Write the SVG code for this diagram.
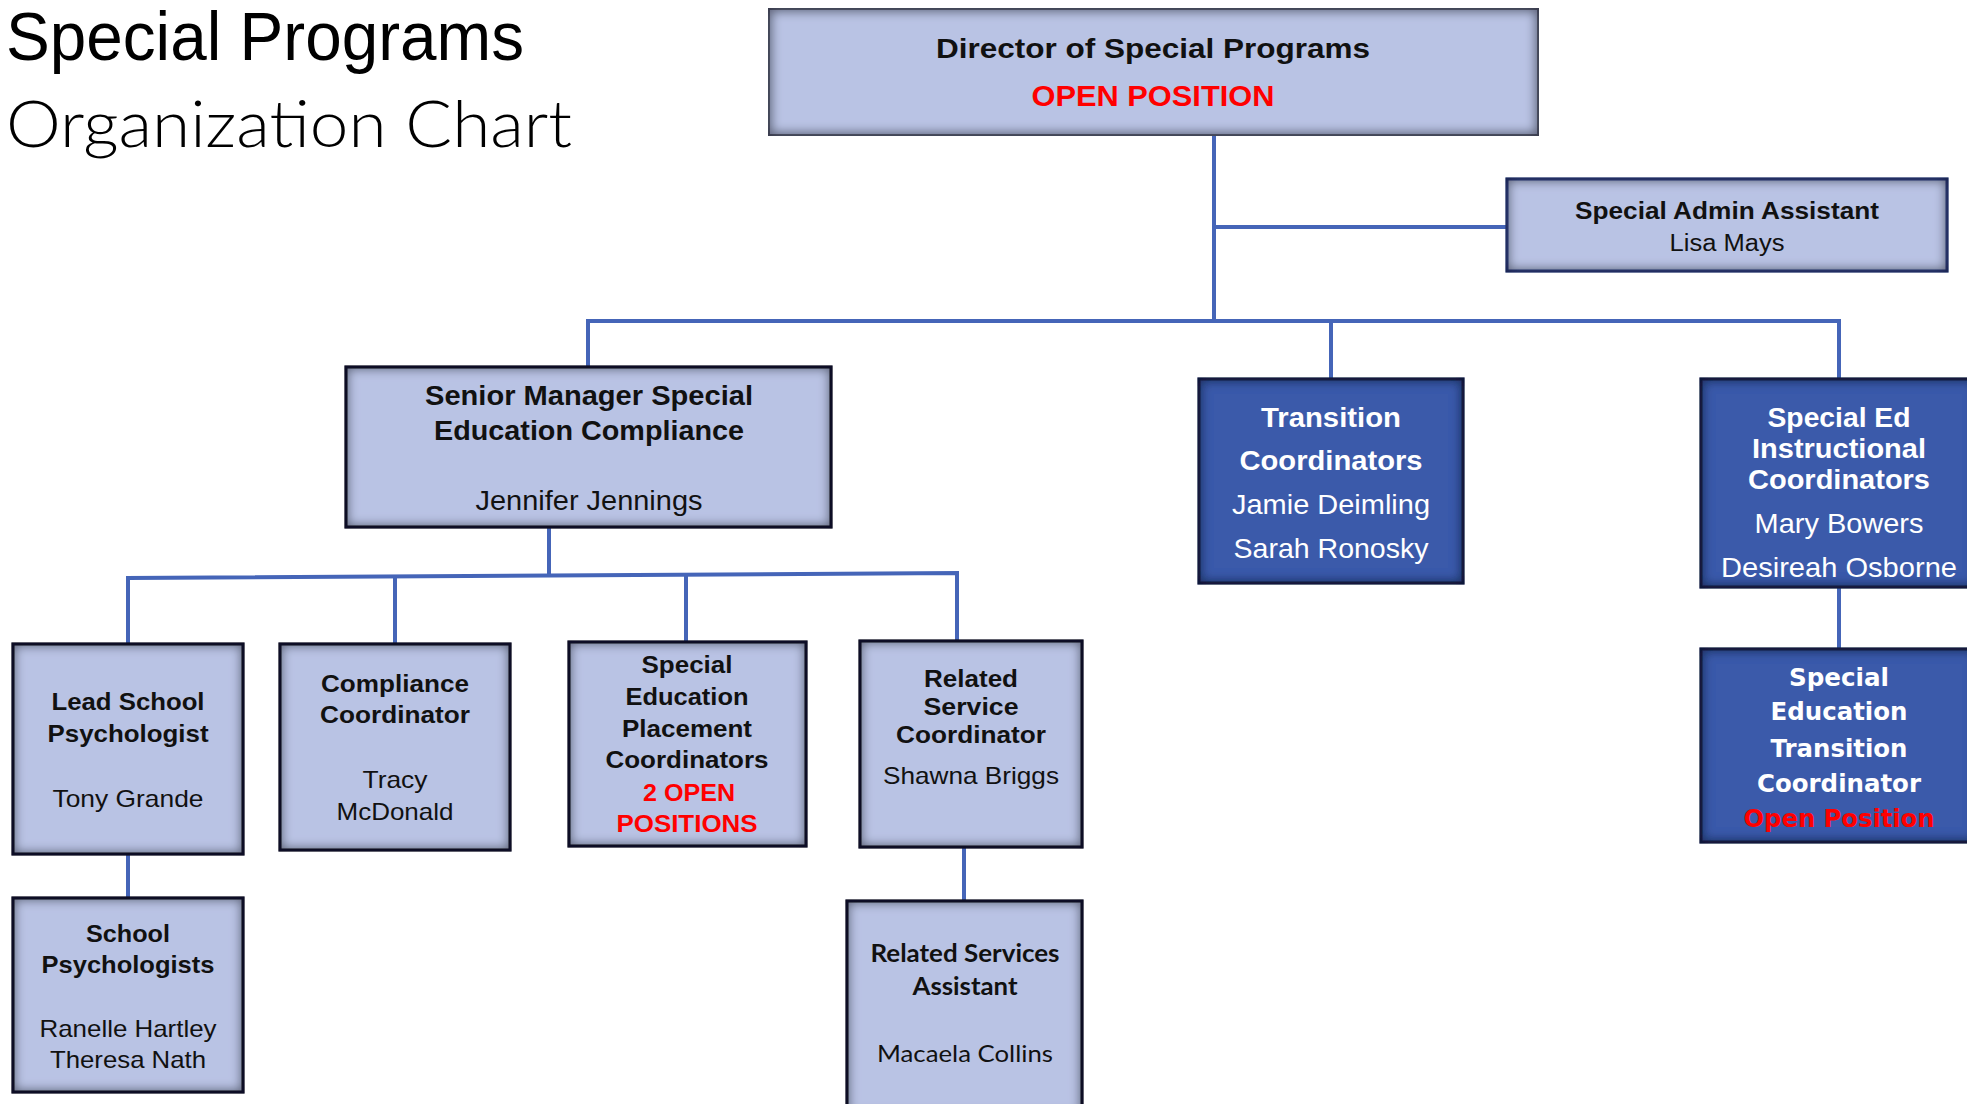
<svg xmlns="http://www.w3.org/2000/svg" width="1967" height="1104" viewBox="0 0 1967 1104">
<defs>
<filter id="inset" x="-5%" y="-5%" width="110%" height="110%">
<feMorphology in="SourceAlpha" operator="erode" radius="5" result="e"/>
<feGaussianBlur in="e" stdDeviation="5" result="eb"/>
<feFlood flood-color="#0c1230" flood-opacity="0.75" result="f"/>
<feComposite in="f" in2="eb" operator="out" result="sh"/>
<feComposite in="sh" in2="SourceAlpha" operator="in" result="s"/>
<feMerge><feMergeNode in="SourceGraphic"/><feMergeNode in="s"/></feMerge>
</filter>
<style>
.lb{fill:#b9c3e4;stroke:#121212;stroke-width:3}
.db{fill:#3a5aaa;stroke:#1c2850;stroke-width:3}
.t{font-family:"Liberation Sans",Arial,sans-serif;text-anchor:middle;fill:#111}
.b{font-weight:bold}
.w{fill:#ffffff}
.r{fill:#ff0000}
.v{font-family:"DejaVu Sans",Verdana,sans-serif}
.c{font-family:Lato,"Open Sans",sans-serif}
.con{fill:none;stroke:#4565b8;stroke-width:4}
</style>
</defs>
<rect width="1967" height="1104" fill="#ffffff"/>
<g id="title">
<text x="6" y="60" font-family="'Liberation Sans',Arial,sans-serif" font-size="68" fill="#000" textLength="518" lengthAdjust="spacingAndGlyphs">Special Programs</text>
<text x="6" y="147" font-family="Lato,'Open Sans',sans-serif" font-weight="300" font-size="66" fill="#000" textLength="566" lengthAdjust="spacingAndGlyphs">Organization Chart</text>
</g>
<g id="connectors">
<path class="con" d="M1214 135V321"/>
<path class="con" d="M1214 227H1507"/>
<path class="con" d="M588 367V321H1839V379"/>
<path class="con" d="M1331 321V379"/>
<path class="con" d="M1839 587V649"/>
<path class="con" d="M549 527V577"/>
<path class="con" d="M128 644V578L957 573V641"/>
<path class="con" d="M395 577V644"/>
<path class="con" d="M686 575V642"/>
<path class="con" d="M128 854V898"/>
<path class="con" d="M964 847V901"/>
</g>
<g id="director">
<rect x="769" y="9" width="769" height="126" fill="#b9c3e4" stroke="#6b6f80" stroke-width="2" filter="url(#inset)"/>
<text class="t b" x="1153" y="58" font-size="28" textLength="434" lengthAdjust="spacingAndGlyphs">Director of Special Programs</text>
<text class="t b r" x="1153" y="106" font-size="29" textLength="243" lengthAdjust="spacingAndGlyphs">OPEN POSITION</text>
</g>
<g id="admin-assistant">
<rect x="1507" y="179" width="440" height="92" fill="#b9c3e4" stroke="#34468c" stroke-width="3" filter="url(#inset)"/>
<text class="t b" x="1727" y="219" font-size="23" textLength="304" lengthAdjust="spacingAndGlyphs">Special Admin Assistant</text>
<text class="t" x="1727" y="251" font-size="23" textLength="115" lengthAdjust="spacingAndGlyphs">Lisa Mays</text>
</g>
<g id="senior-manager">
<rect class="lb" x="346" y="367" width="485" height="160" filter="url(#inset)"/>
<text class="t b" x="589" y="405" font-size="27" textLength="328" lengthAdjust="spacingAndGlyphs">Senior Manager Special</text>
<text class="t b" x="589" y="440" font-size="27" textLength="310" lengthAdjust="spacingAndGlyphs">Education Compliance</text>
<text class="t" x="589" y="510" font-size="27" textLength="227" lengthAdjust="spacingAndGlyphs">Jennifer Jennings</text>
</g>
<g id="transition-coordinators">
<rect class="db" x="1199" y="379" width="264" height="204" filter="url(#inset)"/>
<text class="t b w" x="1331" y="427" font-size="28" textLength="140" lengthAdjust="spacingAndGlyphs">Transition</text>
<text class="t b w" x="1331" y="470" font-size="28" textLength="183" lengthAdjust="spacingAndGlyphs">Coordinators</text>
<text class="t w" x="1331" y="514" font-size="28" textLength="198" lengthAdjust="spacingAndGlyphs">Jamie Deimling</text>
<text class="t w" x="1331" y="558" font-size="28" textLength="195" lengthAdjust="spacingAndGlyphs">Sarah Ronosky</text>
</g>
<g id="instructional-coordinators">
<rect class="db" x="1701" y="379" width="276" height="208" filter="url(#inset)"/>
<text class="t b w" x="1839" y="427" font-size="28" textLength="143" lengthAdjust="spacingAndGlyphs">Special Ed</text>
<text class="t b w" x="1839" y="458" font-size="28" textLength="174" lengthAdjust="spacingAndGlyphs">Instructional</text>
<text class="t b w" x="1839" y="489" font-size="28" textLength="182" lengthAdjust="spacingAndGlyphs">Coordinators</text>
<text class="t w" x="1839" y="533" font-size="28" textLength="169" lengthAdjust="spacingAndGlyphs">Mary Bowers</text>
<text class="t w" x="1839" y="577" font-size="28" textLength="236" lengthAdjust="spacingAndGlyphs">Desireah Osborne</text>
</g>
<g id="sped-transition-coordinator">
<rect class="db" x="1701" y="649" width="276" height="193" filter="url(#inset)"/>
<text class="t v b w" x="1839" y="686" font-size="24" textLength="100" lengthAdjust="spacingAndGlyphs">Special</text>
<text class="t v b w" x="1839" y="720" font-size="24" textLength="137" lengthAdjust="spacingAndGlyphs">Education</text>
<text class="t v b w" x="1839" y="757" font-size="24" textLength="137" lengthAdjust="spacingAndGlyphs">Transition</text>
<text class="t v b w" x="1839" y="792" font-size="24" textLength="164" lengthAdjust="spacingAndGlyphs">Coordinator</text>
<text class="t v b r" x="1839" y="827" font-size="24" textLength="191" lengthAdjust="spacingAndGlyphs">Open Position</text>
</g>
<g id="lead-school-psychologist">
<rect class="lb" x="13" y="644" width="230" height="210" filter="url(#inset)"/>
<text class="t b" x="128" y="710" font-size="24" textLength="153" lengthAdjust="spacingAndGlyphs">Lead School</text>
<text class="t b" x="128" y="742" font-size="24" textLength="161" lengthAdjust="spacingAndGlyphs">Psychologist</text>
<text class="t" x="128" y="807" font-size="24" textLength="151" lengthAdjust="spacingAndGlyphs">Tony Grande</text>
</g>
<g id="compliance-coordinator">
<rect class="lb" x="280" y="644" width="230" height="206" filter="url(#inset)"/>
<text class="t b" x="395" y="692" font-size="24" textLength="148" lengthAdjust="spacingAndGlyphs">Compliance</text>
<text class="t b" x="395" y="723" font-size="24" textLength="150" lengthAdjust="spacingAndGlyphs">Coordinator</text>
<text class="t" x="395" y="788" font-size="24" textLength="65" lengthAdjust="spacingAndGlyphs">Tracy</text>
<text class="t" x="395" y="820" font-size="24" textLength="117" lengthAdjust="spacingAndGlyphs">McDonald</text>
</g>
<g id="placement-coordinators">
<rect class="lb" x="569" y="642" width="237" height="204" filter="url(#inset)"/>
<text class="t b" x="687" y="673" font-size="23" textLength="91" lengthAdjust="spacingAndGlyphs">Special</text>
<text class="t b" x="687" y="705" font-size="23" textLength="123" lengthAdjust="spacingAndGlyphs">Education</text>
<text class="t b" x="687" y="737" font-size="23" textLength="130" lengthAdjust="spacingAndGlyphs">Placement</text>
<text class="t b" x="687" y="768" font-size="23" textLength="163" lengthAdjust="spacingAndGlyphs">Coordinators</text>
<text class="t b r" x="689" y="801" font-size="23" textLength="92" lengthAdjust="spacingAndGlyphs">2 OPEN</text>
<text class="t b r" x="687" y="832" font-size="23" textLength="141" lengthAdjust="spacingAndGlyphs">POSITIONS</text>
</g>
<g id="related-service-coordinator">
<rect class="lb" x="860" y="641" width="222" height="206" filter="url(#inset)"/>
<text class="t b" x="971" y="687" font-size="24" textLength="94" lengthAdjust="spacingAndGlyphs">Related</text>
<text class="t b" x="971" y="715" font-size="24" textLength="95" lengthAdjust="spacingAndGlyphs">Service</text>
<text class="t b" x="971" y="743" font-size="24" textLength="150" lengthAdjust="spacingAndGlyphs">Coordinator</text>
<text class="t" x="971" y="784" font-size="24" textLength="176" lengthAdjust="spacingAndGlyphs">Shawna Briggs</text>
</g>
<g id="school-psychologists">
<rect class="lb" x="13" y="898" width="230" height="194" filter="url(#inset)"/>
<text class="t b" x="128" y="942" font-size="24" textLength="84" lengthAdjust="spacingAndGlyphs">School</text>
<text class="t b" x="128" y="973" font-size="24" textLength="173" lengthAdjust="spacingAndGlyphs">Psychologists</text>
<text class="t" x="128" y="1037" font-size="24" textLength="177" lengthAdjust="spacingAndGlyphs">Ranelle Hartley</text>
<text class="t" x="128" y="1068" font-size="24" textLength="156" lengthAdjust="spacingAndGlyphs">Theresa Nath</text>
</g>
<g id="related-services-assistant">
<rect class="lb" x="847" y="901" width="235" height="215" filter="url(#inset)"/>
<text class="t c b" x="965" y="962" font-size="24" textLength="189" lengthAdjust="spacingAndGlyphs">Related Services</text>
<text class="t c b" x="965" y="995" font-size="24" textLength="105" lengthAdjust="spacingAndGlyphs">Assistant</text>
<text class="t c" x="965" y="1062" font-size="24" textLength="176" lengthAdjust="spacingAndGlyphs">Macaela Collins</text>
</g>
</svg>
